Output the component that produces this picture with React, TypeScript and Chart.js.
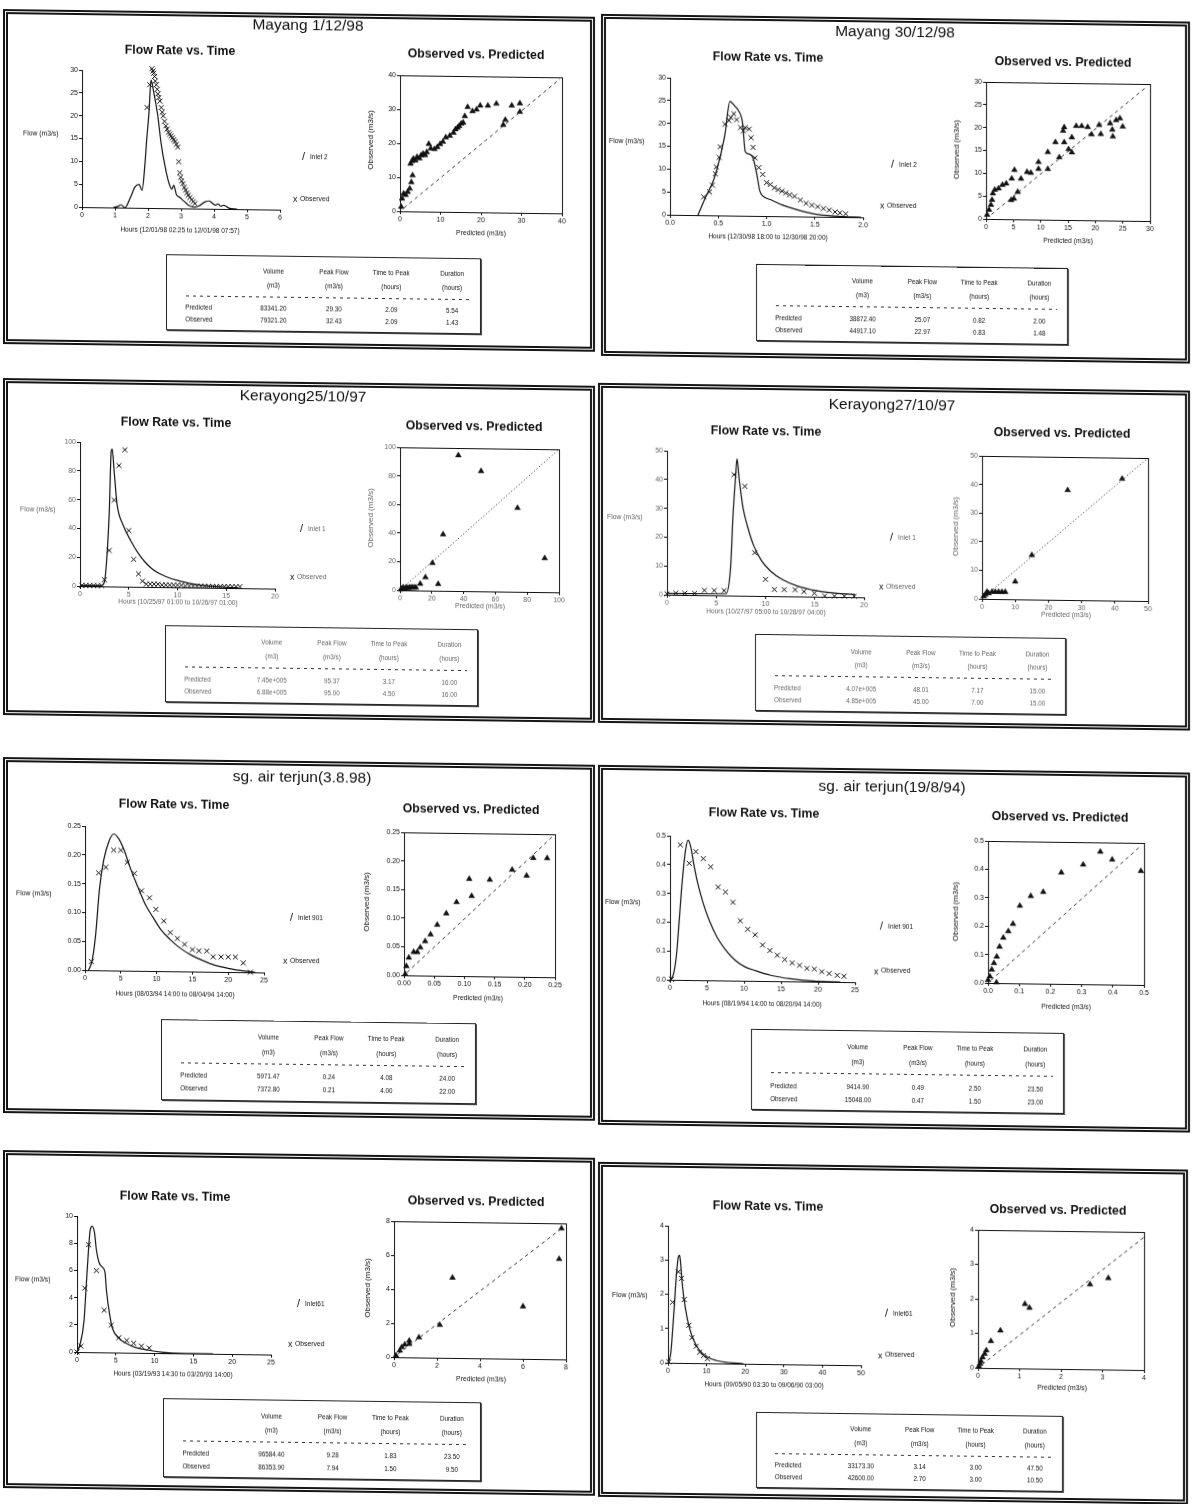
import React, { useEffect, useRef } from "react";
import { Chart, registerables } from "chart.js";

Chart.register(...registerables);

type Pt = [number, number];

// ================= DATA =================
// ---- Mayang 1/12/98 ----
const mayang1FlowXTicks = [0, 1, 2, 3, 4, 5, 6];
const mayang1FlowYTicks = [0, 5, 10, 15, 20, 25, 30];
const mayang1ScatterTicks = [0, 10, 20, 30, 40];
const mayang1Predicted: Pt[] = [
  [0.95, 0], [1.1, 0.3], [1.18, 0.6], [1.3, 0], [1.47, 2.3], [1.6, 4.5], [1.73, 5.1], [1.82, 3.8], [1.9, 9],
  [1.96, 15], [2.03, 21], [2.09, 28], [2.17, 25.5], [2.29, 20.5], [2.4, 14], [2.52, 9], [2.63, 5.6], [2.72, 4.2],
  [2.78, 5], [2.86, 3], [2.96, 2.4], [3.1, 1.5], [3.25, 0.6], [3.4, 0.3], [3.55, 0.6], [3.7, 1.4], [3.85, 1.7],
  [3.95, 1.2], [4.05, 0.8], [4.12, 1.1], [4.2, 0.6], [4.3, 0.8], [4.45, 0.2], [4.7, 0],
];
const mayang1Observed: Pt[] = [
  [1.97, 22], [2.05, 27], [2.1, 31.5], [2.12, 30.5], [2.15, 30], [2.17, 29.5], [2.2, 28.8], [2.22, 27.8], [2.25, 27],
  [2.28, 26], [2.3, 25], [2.33, 24.2], [2.36, 23.4], [2.4, 22], [2.43, 21], [2.46, 20.2], [2.5, 19], [2.54, 18],
  [2.58, 17.3], [2.62, 16.6], [2.66, 16.2], [2.7, 15.8], [2.74, 15.4], [2.78, 15], [2.82, 14.6], [2.86, 14],
  [2.9, 13.4], [2.93, 10.2], [2.96, 7.8], [2.99, 6.8], [3.02, 6], [3.06, 5.4], [3.1, 4.6], [3.14, 4], [3.18, 3.4],
  [3.22, 2.9], [3.27, 2.4], [3.32, 1.9], [3.37, 1.5], [3.42, 1.1],
];
const mayang1ObsVsPred: Pt[] = [
  [0.3, 1.3], [0.5, 3.7], [0.9, 5.2], [1.4, 4.8], [1.9, 5.7], [2.4, 6.7], [2.8, 8.6], [3.1, 10.6], [2.6, 14],
  [3.0, 14.8], [3.3, 15.5], [3.8, 15], [4.2, 16], [4.8, 15.6], [5.2, 16.5], [5.7, 17], [6.2, 16.6], [6.6, 17.5],
  [7.1, 19.9], [7.6, 18.6], [8.5, 18.4], [9.2, 19], [9.9, 19.9], [10.6, 20.6], [11.3, 21.9], [12.3, 22.4],
  [13.2, 23.3], [13.7, 24.3], [14.2, 24.8], [14.6, 25.3], [15.1, 26], [15.6, 26.3], [16, 28.2], [16.7, 30.9],
  [17.9, 29.7], [18.9, 30.2], [19.8, 31.4], [21.7, 31.4], [23.8, 32], [25.5, 25.8], [26, 27.3], [27.6, 31.5],
  [29.6, 32.2], [29.6, 29.7],
];
const mayang1OneToOne: Pt[] = [[1, 1], [39.5, 39.5]];
const mayang1PredictedStats = ["83341.20", "29.30", "2.09", "5.54"];
const mayang1ObservedStats = ["79321.20", "32.43", "2.09", "1.43"];

// ---- Mayang 30/12/98 ----
const mayang2FlowXTicks = [0, 0.5, 1, 1.5, 2];
const mayang2FlowYTicks = [0, 5, 10, 15, 20, 25, 30];
const mayang2ScatterTicks = [0, 5, 10, 15, 20, 25, 30];
const mayang2Predicted: Pt[] = [
  [0.29, 0], [0.37, 4], [0.45, 7.6], [0.51, 12], [0.57, 17.8], [0.62, 25], [0.67, 24], [0.71, 23], [0.75, 20.5],
  [0.78, 14], [0.82, 13.5], [0.86, 12.7], [0.9, 9], [0.93, 5.5], [0.96, 4.4], [1.04, 3.6], [1.16, 2.5],
  [1.31, 1.5], [1.47, 0.7], [1.63, 0.3], [1.8, 0.1], [1.98, 0],
];
const mayang2Observed: Pt[] = [
  [0.35, 4], [0.41, 5.1], [0.44, 6.6], [0.47, 9.1], [0.48, 10.6], [0.51, 12.7], [0.52, 15], [0.57, 20],
  [0.61, 20.8], [0.63, 21.5], [0.66, 22.3], [0.69, 21], [0.73, 19.3], [0.76, 18.6], [0.78, 19.3], [0.82, 19],
  [0.84, 17.1], [0.86, 15], [0.88, 12.7], [0.92, 10.6], [0.96, 9.1], [1.0, 7.3], [1.04, 6.9], [1.08, 6.2],
  [1.12, 5.8], [1.16, 5.5], [1.2, 5.1], [1.24, 4.7], [1.29, 4.4], [1.35, 3.6], [1.41, 2.9], [1.47, 2.5],
  [1.53, 2.2], [1.59, 1.8], [1.65, 1.5], [1.71, 1.1], [1.76, 0.9], [1.82, 0.7],
];
const mayang2ObsVsPred: Pt[] = [
  [0.2, 0.9], [0.55, 2], [0.9, 3.1], [1.1, 4.2], [1.25, 5.6], [1.6, 6.4], [2.3, 6.7], [3, 7.5], [3.7, 7.8],
  [4.7, 8.9], [5.2, 10.8], [4.6, 4.2], [5.1, 4.5], [5.8, 6], [6.4, 8.9], [7.5, 10.4], [8.2, 10.2], [9.6, 11.1],
  [9.6, 12.6], [11.3, 11.1], [11.3, 14.8], [12.7, 17], [13.4, 13.7], [14.1, 19.5], [14.3, 20.3], [14.3, 17],
  [15.1, 15.5], [15.7, 14.8], [15.7, 18.1], [16.5, 20.6], [17.5, 20.6], [18.6, 20.4], [19.3, 18.8], [20.7, 20.9],
  [21, 18.9], [22.7, 21.3], [23.1, 19.9], [23.2, 18.4], [23.8, 22], [24.5, 22.4], [25, 20.6],
];
const mayang2OneToOne: Pt[] = [[1, 1], [29, 29]];
const mayang2PredictedStats = ["38872.40", "25.07", "0.82", "2.00"];
const mayang2ObservedStats = ["44917.10", "22.97", "0.83", "1.48"];

// ---- Kerayong 25/10/97 ----
const kerayong1FlowXTicks = [0, 5, 10, 15, 20];
const kerayong1FlowYTicks = [0, 20, 40, 60, 80, 100];
const kerayong1ScatterTicks = [0, 20, 40, 60, 80, 100];
const kerayong1Predicted: Pt[] = [
  [0, 0.5], [2.2, 0.5], [2.5, 3], [2.75, 20], [3.0, 52], [3.2, 94], [3.3, 95.4], [3.5, 80], [3.8, 57], [4.4, 43],
  [5.2, 32], [6, 23], [6.7, 17], [7.5, 12], [8.7, 7.6], [10.3, 4.2], [12.2, 1.8], [14.6, 0.7], [16.2, 0.2],
];
const kerayong1Observed: Pt[] = [
  [0.2, 0.5], [0.6, 0.5], [1, 0.5], [1.4, 0.5], [1.8, 0.5], [2.2, 0.5], [2.5, 4.6], [3, 25], [3.5, 60], [4, 84],
  [4.6, 95], [5, 39], [5.5, 19], [6, 9], [6.4, 4], [6.8, 2], [7.2, 2], [7.6, 2], [8, 2], [8.4, 1.5], [8.8, 1.5],
  [9.2, 1.5], [9.6, 1.5], [10, 1.5], [10.4, 1.5], [10.8, 1], [11.2, 1], [11.6, 1], [12, 1], [12.4, 1], [12.8, 1],
  [13.2, 1], [13.6, 1], [14, 1], [14.4, 1], [14.8, 1], [15.2, 1], [15.6, 1], [16, 1], [16.4, 1],
];
const kerayong1ObsVsPred: Pt[] = [
  [0.5, 0.5], [1, 1], [2, 2], [3, 1], [4, 2], [5, 1.5], [6, 2], [7, 2], [8, 2], [9, 2], [10, 2], [12.7, 4.7],
  [16, 9.3], [20.4, 19.3], [24, 4.7], [27.1, 39.5], [36.7, 94.9], [51, 84], [73.9, 58.6], [91, 23.7],
];
const kerayong1OneToOne: Pt[] = [[0, 0], [99, 99]];
const kerayong1PredictedStats = ["7.45e+005", "95.37", "3.17", "16.00"];
const kerayong1ObservedStats = ["6.88e+005", "95.00", "4.50", "16.00"];

// ---- Kerayong 27/10/97 ----
const kerayong2FlowXTicks = [0, 5, 10, 15, 20];
const kerayong2FlowYTicks = [0, 10, 20, 30, 40, 50];
const kerayong2ScatterTicks = [0, 10, 20, 30, 40, 50];
const kerayong2Predicted: Pt[] = [
  [0, 0.5], [6.0, 0.6], [6.45, 9.8], [6.7, 28], [6.95, 41], [7.1, 47.5], [7.34, 40], [7.7, 30.7], [8.2, 23.7],
  [8.8, 17.4], [9.6, 12.2], [10.5, 8.7], [11.7, 5.8], [13.3, 3.5], [14.8, 2.3], [16.4, 1.5], [17.6, 1.2], [19.1, 0.9],
];
const kerayong2Observed: Pt[] = [
  [0, 0.3], [0.9, 0.6], [1.8, 0.6], [2.8, 0.6], [3.8, 1.7], [4.8, 1.7], [5.8, 1.7], [6.8, 42], [7.9, 38], [8.9, 15],
  [10, 5.8], [10.9, 2.3], [11.9, 2.3], [13, 2.3], [13.9, 1.7], [14.96, 1.2], [16, 0.3], [17, 0.3], [18, 0.3], [19, 0.3],
];
const kerayong2ObsVsPred: Pt[] = [
  [0.5, 0.9], [1, 1.5], [1.5, 2.5], [2, 2], [3, 2.5], [4, 2.5], [5, 2.5], [6, 2.5], [7, 2.5], [10, 6.2],
  [15, 15.5], [25.8, 38.4], [42.2, 42.6],
];
const kerayong2OneToOne: Pt[] = [[1, 1], [49.5, 49.5]];
const kerayong2PredictedStats = ["4.07e+005", "48.01", "7.17", "15.00"];
const kerayong2ObservedStats = ["4.85e+005", "45.00", "7.00", "15.00"];

// ---- sg. air terjun (3.8.98) ----
const terjun1FlowXTicks = [0, 5, 10, 15, 20, 25];
const terjun1FlowYTicks = [0, 0.05, 0.1, 0.15, 0.2, 0.25];
const terjun1ScatterTicks = [0, 0.05, 0.1, 0.15, 0.2, 0.25];
const terjun1Predicted: Pt[] = [
  [0.5, 0], [1, 0.017], [1.5, 0.064], [2, 0.139], [2.6, 0.191], [3.4, 0.226], [4, 0.237], [4.7, 0.229],
  [5.5, 0.208], [6.3, 0.179], [7.4, 0.145], [8.4, 0.116], [9.5, 0.093], [10.6, 0.072], [11.9, 0.055],
  [13.2, 0.041], [14.9, 0.028], [16.5, 0.019], [18, 0.012], [20.2, 0.006], [22.3, 0.002], [23.8, 0],
];
const terjun1Observed: Pt[] = [
  [0.9, 0.015], [1.9, 0.169], [2.9, 0.179], [4, 0.209], [5, 0.209], [5.9, 0.188], [6.9, 0.169], [7.9, 0.139],
  [9, 0.127], [9.9, 0.107], [11, 0.087], [11.9, 0.067], [12.9, 0.057], [13.9, 0.047], [15, 0.038], [15.9, 0.036],
  [17, 0.036], [17.9, 0.026], [19, 0.026], [20, 0.026], [21, 0.026], [22.1, 0.016], [23.1, 0],
];
const terjun1ObsVsPred: Pt[] = [
  [0.002, 0.002], [0.004, 0.016], [0.008, 0.031], [0.016, 0.041], [0.022, 0.041], [0.027, 0.049],
  [0.035, 0.06], [0.044, 0.072], [0.055, 0.089], [0.07, 0.109], [0.087, 0.129], [0.108, 0.17], [0.112, 0.14],
  [0.142, 0.169], [0.179, 0.187], [0.203, 0.177], [0.214, 0.208], [0.237, 0.208],
];
const terjun1OneToOne: Pt[] = [[0.005, 0.005], [0.25, 0.25]];
const terjun1PredictedStats = ["5971.47", "0.24", "4.08", "24.00"];
const terjun1ObservedStats = ["7372.80", "0.21", "4.00", "22.00"];

// ---- sg. air terjun (19/8/94) ----
const terjun2FlowXTicks = [0, 5, 10, 15, 20, 25];
const terjun2FlowYTicks = [0, 0.1, 0.2, 0.3, 0.4, 0.5];
const terjun2ScatterTicks = [0, 0.1, 0.2, 0.3, 0.4, 0.5];
const terjun2Predicted: Pt[] = [
  [0.1, 0], [0.5, 0.023], [0.9, 0.093], [1.25, 0.208], [1.67, 0.347], [2.1, 0.451], [2.45, 0.486], [2.8, 0.463],
  [3.2, 0.405], [3.75, 0.336], [4.5, 0.266], [5.3, 0.208], [6.35, 0.15], [7.4, 0.11], [8.7, 0.073], [10, 0.05],
  [11.6, 0.035], [13.6, 0.02], [16.25, 0.009], [19.4, 0.002], [23, 0],
];
const terjun2Observed: Pt[] = [
  [0.2, 0.002], [1.4, 0.469], [2.6, 0.405], [3.5, 0.446], [4.5, 0.422], [5.5, 0.394], [6.5, 0.324], [7.5, 0.307],
  [8.5, 0.272], [9.5, 0.208], [10.5, 0.179], [11.5, 0.16], [12.5, 0.125], [13.5, 0.106], [14.5, 0.09],
  [15.5, 0.075], [16.5, 0.064], [17.5, 0.056], [18.5, 0.046], [19.5, 0.044], [20.5, 0.035], [21.5, 0.029],
  [22.6, 0.023], [23.5, 0.02],
];
const terjun2ObsVsPred: Pt[] = [
  [0, 0.01], [0.006, 0.023], [0.012, 0.047], [0.019, 0.07], [0.028, 0.093], [0.037, 0.128], [0.049, 0.16],
  [0.065, 0.183], [0.08, 0.209], [0.102, 0.273], [0.137, 0.308], [0.177, 0.323], [0.235, 0.392], [0.305, 0.421],
  [0.36, 0.467], [0.398, 0.44], [0.49, 0.401], [0.027, 0.002],
];
const terjun2OneToOne: Pt[] = [[0.01, 0.01], [0.49, 0.49]];
const terjun2PredictedStats = ["9414.90", "0.49", "2.50", "23.50"];
const terjun2ObservedStats = ["15048.00", "0.47", "1.50", "23.00"];

// ---- Inlet 61 (1993) ----
const inlet61aFlowXTicks = [0, 5, 10, 15, 20, 25];
const inlet61aFlowYTicks = [0, 2, 4, 6, 8, 10];
const inlet61aScatterTicks = [0, 2, 4, 6, 8];
const inlet61aPredicted: Pt[] = [
  [0, 0], [0.4, 0.6], [0.9, 2.3], [1.2, 5], [1.5, 7.7], [1.7, 9], [1.96, 9.26], [2.25, 8.8], [2.5, 7.5],
  [2.84, 6.6], [3.2, 6.3], [3.6, 5.9], [3.8, 4.5], [4.2, 2.8], [4.55, 1.8], [5.3, 1.1], [6.3, 0.7], [7.5, 0.4],
  [9, 0.22], [10.9, 0.07], [13.8, 0], [17.5, 0],
];
const inlet61aObserved: Pt[] = [
  [0, 0], [0.5, 0.44], [1, 4.7], [1.5, 7.9], [2.5, 6], [3.5, 3.1], [4.4, 2], [5.4, 1.1], [6.4, 0.9], [7.3, 0.7],
  [8.3, 0.5], [9.3, 0.37],
];
const inlet61aObsVsPred: Pt[] = [
  [0.09, 0.1], [0.27, 0.39], [0.36, 0.59], [0.5, 0.75], [0.71, 0.79], [0.71, 0.98], [1.16, 1.18], [2.13, 1.93],
  [2.72, 4.72], [6.0, 3.08], [7.68, 5.9], [7.79, 7.7],
];
const inlet61aOneToOne: Pt[] = [[0.2, 0.2], [7.9, 7.8]];
const inlet61aPredictedStats = ["96584.40", "9.28", "1.83", "23.50"];
const inlet61aObservedStats = ["86353.90", "7.94", "1.50", "9.50"];

// ---- Inlet 61 (1990) ----
const inlet61bFlowXTicks = [0, 10, 20, 30, 40, 50];
const inlet61bFlowYTicks = [0, 1, 2, 3, 4];
const inlet61bScatterTicks = [0, 1, 2, 3, 4];
const inlet61bPredicted: Pt[] = [
  [0, 0], [0.7, 0.27], [1.5, 1.44], [2.2, 2.6], [2.7, 3.1], [3.0, 3.14], [3.2, 3.0], [3.7, 2.3], [4.5, 1.6],
  [5.5, 1.05], [6.7, 0.66], [8.2, 0.37], [10.2, 0.18], [12.6, 0.08], [15.6, 0.03], [19.6, 0],
];
const inlet61bObserved: Pt[] = [
  [0.2, 0.03], [1.2, 1.77], [2.7, 2.66], [3.5, 2.47], [4.2, 1.85], [5.4, 1.1], [6.2, 0.74], [7.3, 0.49],
  [8.2, 0.32], [9.2, 0.22], [10.2, 0.13],
];
const inlet61bObsVsPred: Pt[] = [
  [0.02, 0.05], [0.05, 0.12], [0.07, 0.2], [0.11, 0.31], [0.16, 0.41], [0.2, 0.51], [0.31, 0.78], [0.54, 1.09],
  [1.13, 1.87], [1.24, 1.76], [2.7, 2.46], [3.14, 2.65],
];
const inlet61bOneToOne: Pt[] = [[0.1, 0.1], [4, 3.85]];
const inlet61bPredictedStats = ["33173.30", "3.14", "3.00", "47.50"];
const inlet61bObservedStats = ["42600.00", "2.70", "3.00", "10.50"];

const tableHeaders = [["Volume", "(m3)"], ["Peak Flow", "(m3/s)"], ["Time to Peak", "(hours)"], ["Duration", "(hours)"]];
const rowLabels = ["Predicted", "Observed"];

// ================= LAYOUT / STYLE =================
const SKEW_DEG = 0.75;
const K = Math.tan((SKEW_DEG * Math.PI) / 180);
const sy = (x: number, y: number) => y - K * x;
const FONT = '"Liberation Sans", Arial, Helvetica, sans-serif';
const INK = "#111";
const YW = 24; // width reserved for y-axis tick labels
const XH = 14; // height reserved for x-axis tick labels
const PT = 6;
const PR = 10;

function decimalsOf(ticks: number[]) {
  let d = 0;
  ticks.forEach((t) => {
    const s = String(t);
    const i = s.indexOf(".");
    if (i >= 0) d = Math.max(d, s.length - i - 1);
  });
  return d;
}

function makeScale(ticks: number[], isX: boolean, dec: number, color: string) {
  return {
    type: "linear",
    position: isX ? "bottom" : "left",
    min: ticks[0],
    max: ticks[ticks.length - 1],
    afterBuildTicks: (s: any) => {
      s.ticks = ticks.map((v) => ({ value: v }));
    },
    afterFit: (s: any) => {
      if (isX) s.height = XH;
      else s.width = YW;
    },
    grid: { display: true, drawOnChartArea: false, drawTicks: true, tickLength: 3, color: INK, lineWidth: 1 },
    border: { display: true, color: INK, width: 1 },
    ticks: {
      color,
      font: { family: FONT, size: 7 },
      padding: 1,
      maxRotation: 0,
      autoSkip: false,
      callback: (v: any) => Number(v).toFixed(dec),
    },
  };
}

const baseOptions = () => ({
  animation: false,
  responsive: false,
  maintainAspectRatio: false,
  events: [],
  layout: { padding: { top: PT, right: PR, left: 0, bottom: 0 }, autoPadding: false },
  plugins: { legend: { display: false }, tooltip: { enabled: false }, title: { display: false } },
});

const boxPlugin = {
  id: "plotBox",
  afterDraw(chart: any) {
    const { ctx, chartArea: a } = chart;
    ctx.save();
    ctx.strokeStyle = INK;
    ctx.lineWidth = 1;
    ctx.strokeRect(Math.round(a.left) + 0.5, Math.round(a.top) + 0.5, Math.round(a.right - a.left), Math.round(a.bottom - a.top));
    ctx.restore();
  },
};

const toXY = (pts: Pt[]) => pts.map(([x, y]) => ({ x, y }));

function flowConfig(p: any) {
  return {
    type: "scatter",
    data: {
      datasets: [
        {
          data: toXY(p.pred),
          showLine: true,
          borderColor: INK,
          borderWidth: 1.2,
          pointRadius: 0,
          cubicInterpolationMode: "monotone",
          fill: false,
        },
        {
          data: toXY(p.obs),
          showLine: false,
          pointStyle: "crossRot",
          pointRadius: 3.5,
          borderColor: INK,
          backgroundColor: INK,
          borderWidth: 1,
          clip: false,
        },
      ],
    },
    options: {
      ...baseOptions(),
      scales: {
        x: makeScale(p.flowX, true, decimalsOf(p.flowX), p.tickColor),
        y: makeScale(p.flowY, false, decimalsOf(p.flowY), p.tickColor),
      },
    },
  };
}

function scatterConfig(p: any) {
  return {
    type: "scatter",
    data: {
      datasets: [
        {
          data: toXY(p.diag),
          showLine: true,
          borderColor: "#333",
          borderWidth: 1,
          borderDash: p.dotted ? [1.2, 2.2] : [3.5, 3.5],
          pointRadius: 0,
          fill: false,
        },
        {
          data: toXY(p.scatter),
          showLine: false,
          pointStyle: "triangle",
          pointRadius: 3.3,
          borderColor: INK,
          backgroundColor: INK,
          borderWidth: 0.5,
          clip: false,
        },
      ],
    },
    options: {
      ...baseOptions(),
      scales: {
        x: makeScale(p.scTicks, true, decimalsOf(p.scTicks), p.tickColor),
        y: makeScale(p.scTicks, false, decimalsOf(p.scTicks), p.tickColor),
      },
    },
    plugins: [boxPlugin],
  };
}

function ChartCanvas({ plot, config }: any) {
  const ref = useRef<HTMLCanvasElement>(null);
  const [l, t, r, b] = plot;
  const w = Math.round(r - l + YW + PR);
  const h = Math.round(b - t + PT + XH);
  const left = l - YW;
  const top = sy(l, t) - PT;
  useEffect(() => {
    const chart = new Chart(ref.current as HTMLCanvasElement, config);
    return () => chart.destroy();
  }, []);
  return (
    <canvas
      ref={ref}
      width={w}
      height={h}
      style={{ position: "absolute", left, top, width: w, height: h, display: "block" }}
    />
  );
}

function Txt({ x, y, text, size, bold, align, color, rotate, skew }: any) {
  const yy = skew === false ? y : sy(x, y);
  const base = align === "left" ? "translate(0,-50%)" : "translate(-50%,-50%)";
  return (
    <div
      style={{
        position: "absolute",
        left: x,
        top: yy,
        transform: base + (rotate ? " rotate(-90deg)" : ""),
        fontSize: size,
        fontWeight: bold ? "bold" : "normal",
        fontFamily: FONT,
        color: color || INK,
        whiteSpace: "nowrap",
        lineHeight: 1,
      }}
    >
      {text}
    </div>
  );
}

function StatsTable({ rect, pred, obs, color }: any) {
  const [l, t, r, b] = rect;
  const w = r - l;
  const h = b - t;
  const cols = [0.338, 0.53, 0.712, 0.905];
  const rowsY = [0.685, 0.845];
  return (
    <div
      style={{
        position: "absolute",
        left: l,
        top: sy(l, t),
        width: w,
        height: h,
        border: "1px solid #222",
        boxShadow: "1px 1px 0 #444",
        boxSizing: "border-box",
        background: "#fff",
      }}
    >
      {tableHeaders.map((hd, i) => (
        <React.Fragment key={"h" + i}>
          <Txt x={cols[i] * w} y={0.2 * h} text={hd[0]} size={6.3} color={color} skew={false} />
          <Txt x={cols[i] * w} y={0.38 * h} text={hd[1]} size={6.3} color={color} skew={false} />
        </React.Fragment>
      ))}
      <div
        style={{
          position: "absolute",
          left: Math.round(0.06 * w),
          width: Math.round(0.9 * w),
          top: Math.round(0.52 * h),
          height: 1,
          backgroundImage: `repeating-linear-gradient(to right, #333 0 3px, transparent 3px 7px)`,
        }}
      />
      {[pred, obs].map((vals: string[], ri: number) => (
        <React.Fragment key={"r" + ri}>
          <Txt x={0.058 * w} y={rowsY[ri] * h} text={rowLabels[ri]} size={6.3} align="left" color={color} skew={false} />
          {vals.map((v, ci) => (
            <Txt key={ci} x={cols[ci] * w} y={rowsY[ri] * h} text={v} size={6.3} color={color} skew={false} />
          ))}
        </React.Fragment>
      ))}
    </div>
  );
}

function Panel({ p }: any) {
  const [bx, by, bw, bh] = p.box;
  const faint = p.faint;
  const small = faint ? "#666" : INK;
  return (
    <>
      <div
        style={{
          position: "absolute",
          left: bx,
          top: sy(bx, by),
          width: bw,
          height: bh,
          border: "5px double #151515",
          boxSizing: "border-box",
        }}
      />
      {p.title && <Txt x={p.titlePos[0]} y={p.titlePos[1]} text={p.title} size={15.5} />}
      <Txt x={p.flowTitle[0]} y={p.flowTitle[1]} text="Flow Rate vs. Time" size={12.3} bold />
      <Txt x={p.scTitle[0]} y={p.scTitle[1]} text="Observed vs. Predicted" size={12.3} bold />
      <ChartCanvas plot={p.flowPlot} config={flowConfig({ ...p, tickColor: small })} />
      <ChartCanvas plot={p.scPlot} config={scatterConfig({ ...p, tickColor: small })} />
      <Txt x={p.flowYLabel[0]} y={p.flowYLabel[1]} text="Flow (m3/s)" size={6.8} align="left" color={small} />
      <Txt x={p.xLabelPos[0]} y={p.xLabelPos[1]} text={p.xLabel} size={6.5} color={small} />
      <Txt x={p.inletPos[0]} y={p.inletPos[1]} text="/" size={11} align="left" />
      <Txt x={p.inletPos[0] + 8} y={p.inletPos[1] + 1} text={p.inlet} size={6.5} align="left" color={small} />
      <Txt x={p.obsPos[0]} y={p.obsPos[1]} text="x" size={9} align="left" />
      <Txt x={p.obsPos[0] + 7} y={p.obsPos[1]} text="Observed" size={6.8} align="left" color={small} />
      <Txt x={p.scYLabel[0]} y={p.scYLabel[1]} text="Observed (m3/s)" size={8} rotate color={small} />
      <Txt x={p.scXLabel[0]} y={p.scXLabel[1]} text="Predicted (m3/s)" size={6.8} color={small} />
      <StatsTable rect={p.table} pred={p.statsPred} obs={p.statsObs} color={small} />
    </>
  );
}

const PANELS = [
  {
    box: [3, 9, 592, 335], title: "Mayang 1/12/98", titlePos: [308, 25],
    flowTitle: [180, 50], flowPlot: [82, 70, 280, 207], flowYLabel: [23, 133],
    xLabel: "Hours (12/01/98 02:25 to 12/01/98 07:57)", xLabelPos: [180, 230],
    inlet: "Inlet 2", inletPos: [302, 156], obsPos: [293, 199],
    scTitle: [476, 54], scPlot: [400, 75, 562, 211], scYLabel: [371, 140], scXLabel: [481, 233],
    table: [166, 254, 481, 330],
    pred: mayang1Predicted, obs: mayang1Observed, scatter: mayang1ObsVsPred, diag: mayang1OneToOne,
    flowX: mayang1FlowXTicks, flowY: mayang1FlowYTicks, scTicks: mayang1ScatterTicks,
    statsPred: mayang1PredictedStats, statsObs: mayang1ObservedStats,
  },
  {
    box: [601, 14, 589, 342], title: "Mayang 30/12/98", titlePos: [895, 32],
    flowTitle: [768, 57], flowPlot: [670, 78, 863, 215], flowYLabel: [609, 141],
    xLabel: "Hours (12/30/98 18:00 to 12/30/98 20:00)", xLabelPos: [768, 237],
    inlet: "Inlet 2", inletPos: [891, 164], obsPos: [880, 206],
    scTitle: [1063, 62], scPlot: [986, 82, 1150, 219], scYLabel: [957, 150], scXLabel: [1068, 241],
    table: [756, 264, 1068, 341],
    pred: mayang2Predicted, obs: mayang2Observed, scatter: mayang2ObsVsPred, diag: mayang2OneToOne,
    flowX: mayang2FlowXTicks, flowY: mayang2FlowYTicks, scTicks: mayang2ScatterTicks,
    statsPred: mayang2PredictedStats, statsObs: mayang2ObservedStats,
  },
  {
    box: [3, 378, 592, 337], title: "Kerayong25/10/97", titlePos: [303, 396], faint: true, dotted: true,
    flowTitle: [176, 422], flowPlot: [80, 442, 275, 586], flowYLabel: [20, 509],
    xLabel: "Hours (10/25/97 01:00 to 10/26/97 01:00)", xLabelPos: [178, 602],
    inlet: "Inlet 1", inletPos: [300, 528], obsPos: [290, 577],
    scTitle: [474, 426], scPlot: [400, 447, 559, 590], scYLabel: [371, 518], scXLabel: [480, 606],
    table: [165, 625, 478, 702],
    pred: kerayong1Predicted, obs: kerayong1Observed, scatter: kerayong1ObsVsPred, diag: kerayong1OneToOne,
    flowX: kerayong1FlowXTicks, flowY: kerayong1FlowYTicks, scTicks: kerayong1ScatterTicks,
    statsPred: kerayong1PredictedStats, statsObs: kerayong1ObservedStats,
  },
  {
    box: [598, 383, 592, 340], title: "Kerayong27/10/97", titlePos: [892, 405], faint: true, dotted: true,
    flowTitle: [766, 431], flowPlot: [667, 451, 864, 595], flowYLabel: [607, 517],
    xLabel: "Hours (10/27/97 05:00 to 10/28/97 04:00)", xLabelPos: [766, 612],
    inlet: "Inlet 1", inletPos: [890, 537], obsPos: [879, 587],
    scTitle: [1062, 433], scPlot: [982, 456, 1148, 599], scYLabel: [956, 527], scXLabel: [1066, 615],
    table: [755, 634, 1066, 711],
    pred: kerayong2Predicted, obs: kerayong2Observed, scatter: kerayong2ObsVsPred, diag: kerayong2OneToOne,
    flowX: kerayong2FlowXTicks, flowY: kerayong2FlowYTicks, scTicks: kerayong2ScatterTicks,
    statsPred: kerayong2PredictedStats, statsObs: kerayong2ObservedStats,
  },
  {
    box: [3, 757, 592, 356], title: "sg. air terjun(3.8.98)", titlePos: [302, 777],
    flowTitle: [174, 804], flowPlot: [85, 826, 264, 970], flowYLabel: [16, 893],
    xLabel: "Hours (08/03/94 14:00 to 08/04/94 14:00)", xLabelPos: [175, 994],
    inlet: "Inlet 901", inletPos: [290, 917], obsPos: [283, 961],
    scTitle: [471, 809], scPlot: [404, 832, 555, 975], scYLabel: [367, 902], scXLabel: [478, 998],
    table: [161, 1019, 476, 1100],
    pred: terjun1Predicted, obs: terjun1Observed, scatter: terjun1ObsVsPred, diag: terjun1OneToOne,
    flowX: terjun1FlowXTicks, flowY: terjun1FlowYTicks, scTicks: terjun1ScatterTicks,
    statsPred: terjun1PredictedStats, statsObs: terjun1ObservedStats,
  },
  {
    box: [598, 765, 592, 360], title: "sg. air terjun(19/8/94)", titlePos: [892, 787],
    flowTitle: [764, 813], flowPlot: [670, 836, 855, 980], flowYLabel: [605, 902],
    xLabel: "Hours (08/19/94 14:00 to 08/20/94 14:00)", xLabelPos: [762, 1004],
    inlet: "Inlet 901", inletPos: [880, 926], obsPos: [874, 971],
    scTitle: [1060, 817], scPlot: [988, 841, 1144, 983], scYLabel: [956, 912], scXLabel: [1066, 1007],
    table: [751, 1029, 1064, 1110],
    pred: terjun2Predicted, obs: terjun2Observed, scatter: terjun2ObsVsPred, diag: terjun2OneToOne,
    flowX: terjun2FlowXTicks, flowY: terjun2FlowYTicks, scTicks: terjun2ScatterTicks,
    statsPred: terjun2PredictedStats, statsObs: terjun2ObservedStats,
  },
  {
    box: [3, 1150, 592, 338],
    flowTitle: [175, 1196], flowPlot: [77, 1216, 271, 1352], flowYLabel: [15, 1279],
    xLabel: "Hours (03/19/93 14:30 to 03/20/93 14:00)", xLabelPos: [173, 1374],
    inlet: "Inlet61", inletPos: [297, 1303], obsPos: [288, 1344],
    scTitle: [476, 1201], scPlot: [394, 1221, 566, 1357], scYLabel: [368, 1288], scXLabel: [481, 1379],
    table: [163, 1398, 481, 1477],
    pred: inlet61aPredicted, obs: inlet61aObserved, scatter: inlet61aObsVsPred, diag: inlet61aOneToOne,
    flowX: inlet61aFlowXTicks, flowY: inlet61aFlowYTicks, scTicks: inlet61aScatterTicks,
    statsPred: inlet61aPredictedStats, statsObs: inlet61aObservedStats,
  },
  {
    box: [598, 1162, 590, 335],
    flowTitle: [768, 1206], flowPlot: [668, 1226, 861, 1363], flowYLabel: [612, 1295],
    xLabel: "Hours (09/05/90 03:30 to 09/06/90 03:00)", xLabelPos: [764, 1385],
    inlet: "Inlet61", inletPos: [885, 1313], obsPos: [878, 1355],
    scTitle: [1058, 1210], scPlot: [978, 1230, 1144, 1368], scYLabel: [953, 1297], scXLabel: [1062, 1388],
    table: [756, 1412, 1063, 1488],
    pred: inlet61bPredicted, obs: inlet61bObserved, scatter: inlet61bObsVsPred, diag: inlet61bOneToOne,
    flowX: inlet61bFlowXTicks, flowY: inlet61bFlowYTicks, scTicks: inlet61bScatterTicks,
    statsPred: inlet61bPredictedStats, statsObs: inlet61bObservedStats,
  },
];

export default function App() {
  return (
    <div
      style={{
        position: "absolute",
        left: 0,
        top: 0,
        width: 1193,
        height: 1504,
        background: "#fff",
        overflow: "hidden",
      }}
    >
      <div
        style={{
          position: "absolute",
          left: 0,
          top: 0,
          width: 1193,
          height: 1504,
          transform: `skewY(${SKEW_DEG}deg)`,
          transformOrigin: "0 0",
          willChange: "transform",
        }}
      >
        {PANELS.map((p, i) => (
          <Panel key={i} p={p} />
        ))}
      </div>
    </div>
  );
}
